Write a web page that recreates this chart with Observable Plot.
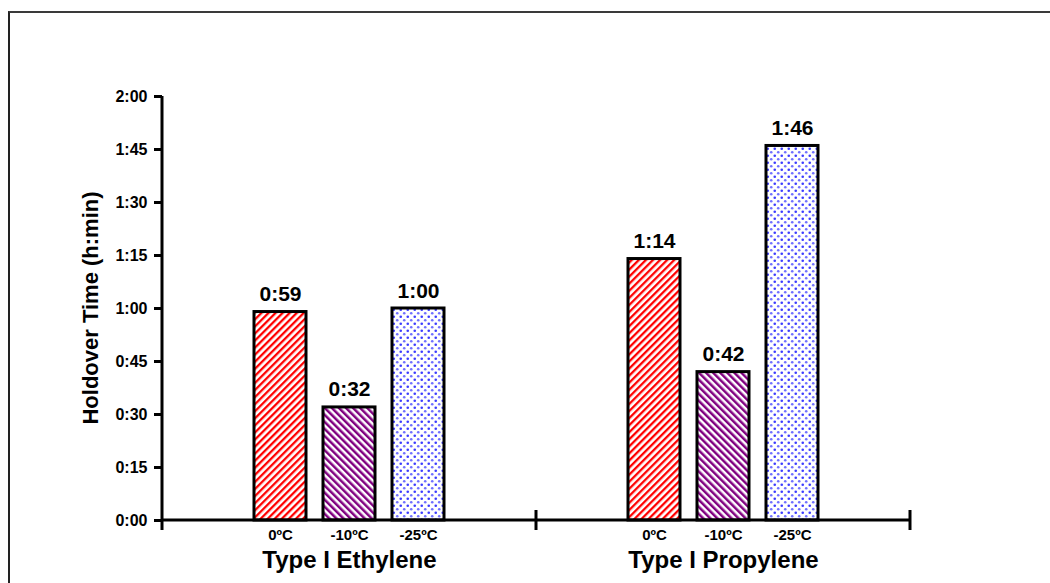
<!DOCTYPE html>
<html>
<head>
<meta charset="utf-8">
<script src="https://cdn.jsdelivr.net/npm/d3@7"></script>
<script src="https://cdn.jsdelivr.net/npm/@observablehq/plot@0.6"></script>
<style>
  html, body { margin: 0; padding: 0; background: #fff; }
  #wrap { position: relative; width: 1050px; height: 583px; overflow: hidden; }
  #border { position: absolute; left: 8px; top: 11px; width: 1100px; height: 700px;
            border-top: 2px solid #3a3a3a; border-left: 2px solid #222; pointer-events: none; }
  #chart { position: absolute; left: 0; top: 0; }
</style>
</head>
<body>
<div id="wrap"><div id="chart"></div><div id="border"></div></div>
<script>
const groups = ["Type I Ethylene", "Type I Propylene"];
const temps = ["0ºC", "-10ºC", "-25ºC"];
const ethyleneMinutes = [59, 32, 60];
const propyleneMinutes = [74, 42, 106];
const yTicks = [0, 15, 30, 45, 60, 75, 90, 105, 120];
const patternIds = ["red-stripes", "purple-stripes", "blue-dots"];
const yLabel = "Holdover Time (h:min)";

const seriesByGroup = [ethyleneMinutes, propyleneMinutes];
const data = groups.flatMap((g, gi) => temps.map((t, ti) => ({
  group: g, temp: t, minutes: seriesByGroup[gi][ti], fill: `url(#${patternIds[ti]})`
})));

const fmt = m => `${Math.floor(m / 60)}:${String(m % 60).padStart(2, "0")}`;

const chart = Plot.plot({
  width: 1050, height: 583,
  marginLeft: 162, marginRight: 140, marginTop: 96, marginBottom: 63,
  style: { fontFamily: "'Liberation Sans', Arial, sans-serif", fontWeight: "bold", color: "black", background: "transparent", overflow: "visible" },
  fx: { domain: groups, padding: 0, label: null },
  x: { domain: temps, paddingInner: 0.253, paddingOuter: 1.317, label: null },
  y: { domain: [0, 120], label: null },
  color: { type: "identity" },
  marks: [
    Plot.axisY({ ticks: yTicks, tickSize: 8, tickPadding: 7, tickFormat: fmt, fontSize: 16, strokeWidth: 3, label: null }),
    Plot.axisX({ tickSize: 0, tickPadding: 9, fontSize: 15, label: null }),
    Plot.axisFx({ anchor: "bottom", tickSize: 0, tickPadding: 30, fontSize: 24, label: null }),
    Plot.barY(data, { fx: "group", x: "temp", y: "minutes", fill: "fill", stroke: "black", strokeWidth: 3 }),
    Plot.text(data, { fx: "group", x: "temp", y: "minutes", text: d => fmt(d.minutes), lineAnchor: "bottom", dy: -11, fontSize: 21, fontWeight: "bold" })
  ]
});

const svg = d3.select(chart);
svg.insert("defs", ":first-child").html(`
  <pattern id="red-stripes" patternUnits="userSpaceOnUse" width="5" height="5" patternTransform="rotate(45)">
    <rect width="5" height="5" fill="#fff"/><rect width="2.3" height="5" fill="#ff0000"/>
  </pattern>
  <pattern id="purple-stripes" patternUnits="userSpaceOnUse" width="5" height="5" patternTransform="rotate(-45)">
    <rect width="5" height="5" fill="#fff"/><rect width="2.5" height="5" fill="#800080"/>
  </pattern>
  <pattern id="blue-dots" patternUnits="userSpaceOnUse" width="7" height="7">
    <rect width="7" height="7" fill="#fff"/>
    <circle cx="1.75" cy="1.75" r="1.3" fill="#3b3bff"/>
    <circle cx="5.25" cy="5.25" r="1.3" fill="#7070ff"/>
  </pattern>`);

const fxS = chart.scale("fx"), yS = chart.scale("y");
const left = fxS.apply(groups[0]);
const mid = fxS.apply(groups[1]);
const right = mid + fxS.bandwidth;
const y0 = yS.apply(0), yTop = yS.apply(120);
const g = svg.append("g").attr("stroke", "black").attr("stroke-width", 3).attr("fill", "none");
g.append("line").attr("x1", left).attr("x2", left).attr("y1", yTop).attr("y2", y0 + 10);
g.append("line").attr("x1", left).attr("x2", right).attr("y1", y0).attr("y2", y0);
for (const xv of [mid, right]) g.append("line").attr("x1", xv).attr("x2", xv).attr("y1", y0 - 10).attr("y2", y0 + 10);

svg.append("text")
  .attr("transform", `translate(${left - 70},${(y0 + yTop) / 2}) rotate(-90)`)
  .attr("text-anchor", "middle").attr("dominant-baseline", "middle")
  .attr("font-size", 22).attr("font-weight", "bold").attr("fill", "black")
  .text(yLabel);

document.getElementById("chart").appendChild(chart);
</script>
</body>
</html>
